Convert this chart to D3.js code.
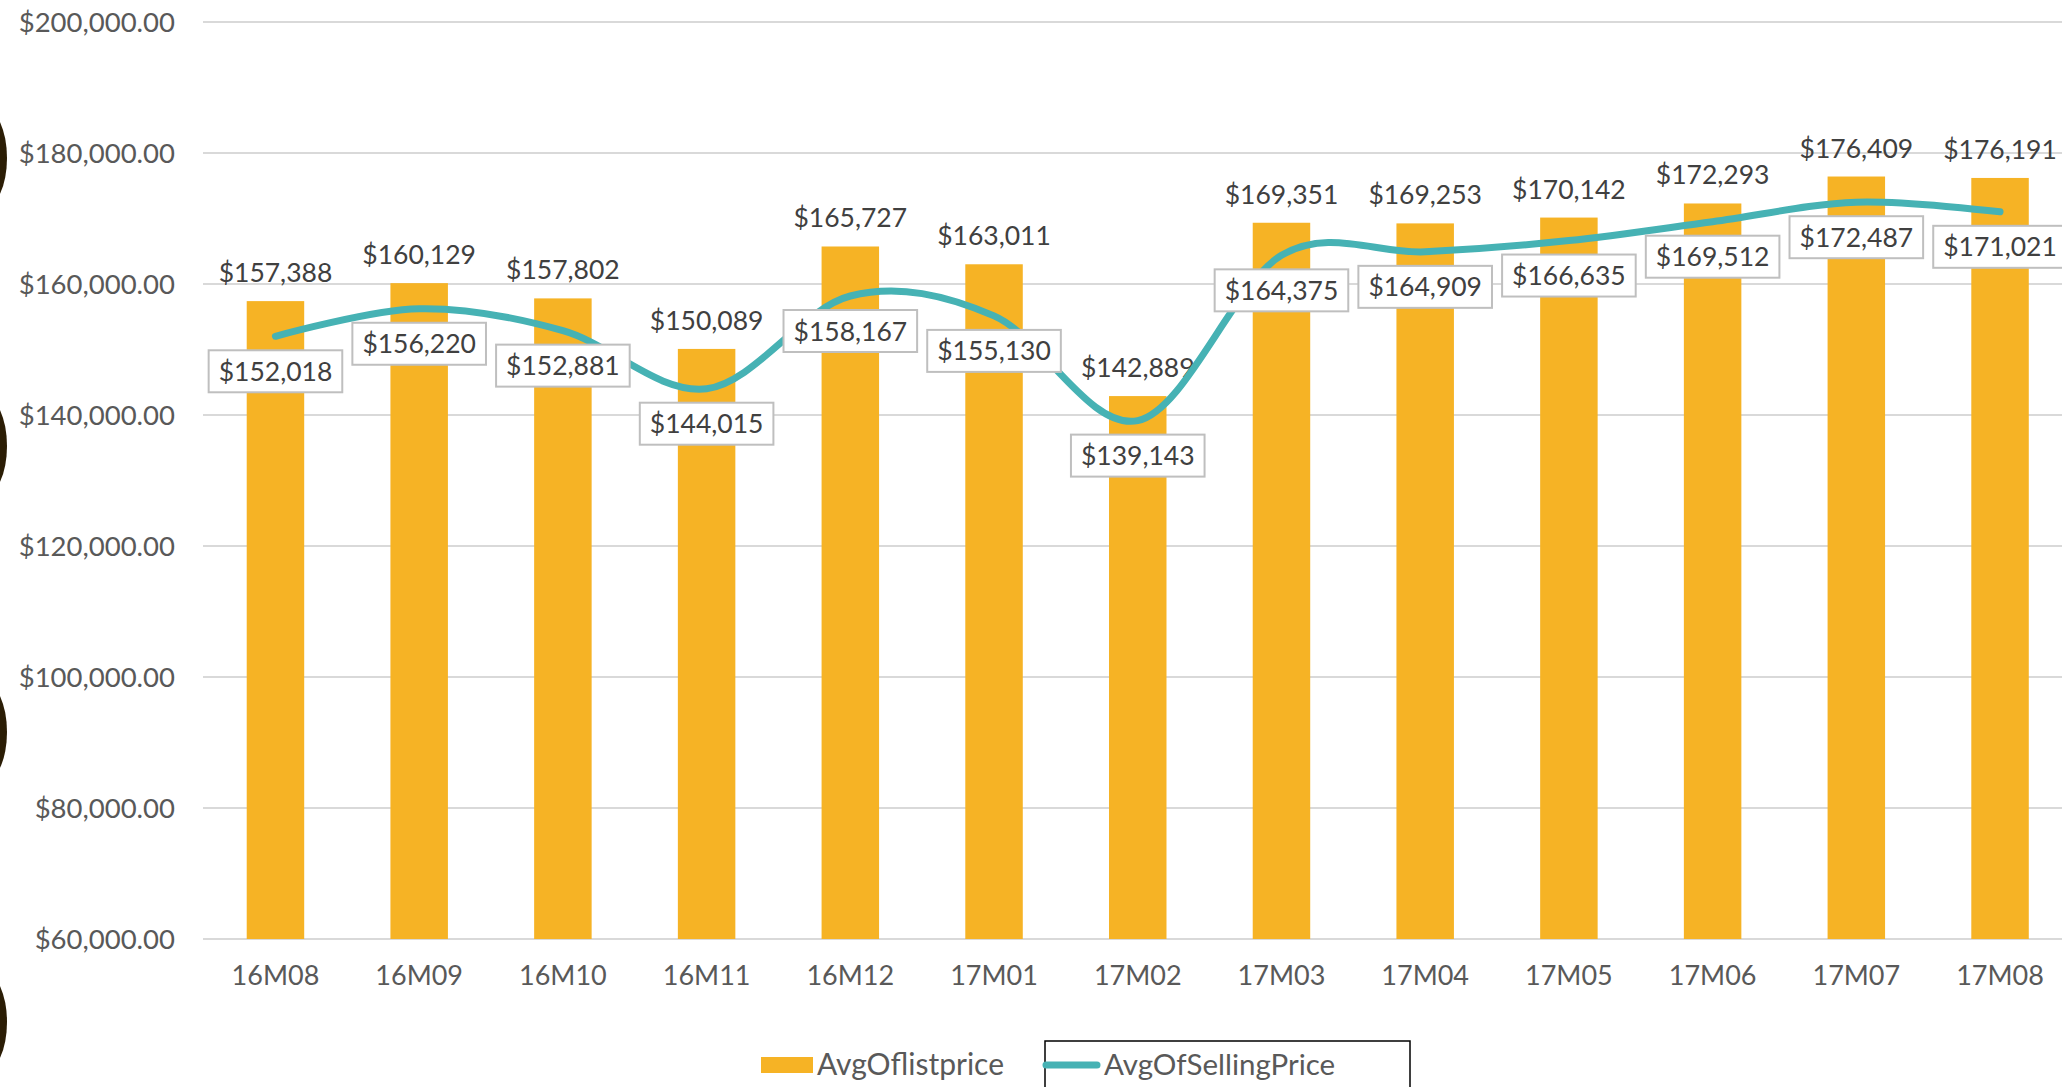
<!DOCTYPE html>
<meta charset="utf-8">
<title>AvgOflistprice vs AvgOfSellingPrice</title>
<head>
  <script src="https://d3js.org/d3.v7.min.js"></script>
  <style>
    body { margin: 0; background: #fff; }
    text { font-family: Lato, "Open Sans", sans-serif; }
  </style>
</head>
<body>
  <div id="chart"></div>
</body>
<script>
    // data
    var months = ["16M08", "16M09", "16M10", "16M11", "16M12", "17M01", "17M02",
                  "17M03", "17M04", "17M05", "17M06", "17M07", "17M08"];
    var listPrice = [157388, 160129, 157802, 150089, 165727, 163011, 142889,
                     169351, 169253, 170142, 172293, 176409, 176191];
    var sellingPrice = [152018, 156220, 152881, 144015, 158167, 155130, 139143,
                        164375, 164909, 166635, 169512, 172487, 171021];
    var yTicks = [60000, 80000, 100000, 120000, 140000, 160000, 180000, 200000];
    var seriesNames = ["AvgOflistprice", "AvgOfSellingPrice"];

    var W = 2062, H = 1087;
    var barColor = "#F6B325", lineColor = "#46B2B4";

    var svg = d3.select("#chart")
      .append("svg")
        .attr("width", W)
        .attr("height", H);

    var x = d3.scaleBand()
        .domain(months)
        .range([203.6, 2071.9])
        .paddingInner(0.6)
        .paddingOuter(0.3);

    var y = d3.scaleLinear()
        .domain([60000, 200000])
        .range([939, 22]);

    var money2 = function(v) { return "$" + d3.format(",.2f")(v); };
    var money0 = function(v) { return "$" + d3.format(",")(v); };

    // decorative dark shapes on the left edge
    svg.selectAll("ellipse.deco")
      .data([158, 446, 732, 1022])
      .enter()
      .append("ellipse")
        .attr("class", "deco")
        .attr("cx", -16)
        .attr("cy", function(d) { return d; })
        .attr("rx", 23)
        .attr("ry", 50)
        .style("fill", "#2B1D05");

    // gridlines
    svg.append("g")
      .selectAll("line")
      .data(yTicks)
      .enter()
      .append("line")
        .attr("x1", 203)
        .attr("x2", W)
        .attr("y1", function(d) { return y(d); })
        .attr("y2", function(d) { return y(d); })
        .style("stroke", "#D9D9D9")
        .style("stroke-width", 2);

    // y axis labels
    var yAxis = svg.append("g")
        .attr("transform", "translate(175,0)")
        .call(d3.axisLeft(y).tickValues(yTicks).tickFormat(money2).tickSize(0).tickPadding(0));
    yAxis.select(".domain").remove();
    yAxis.selectAll("text")
        .attr("dy", "0.36em")
        .style("font-size", "27.5px")
        .style("fill", "#595959");

    // x axis labels
    var xAxis = svg.append("g")
        .attr("transform", "translate(0,939)")
        .call(d3.axisBottom(x).tickSize(0).tickPadding(0));
    xAxis.select(".domain").remove();
    xAxis.selectAll("text")
        .attr("y", 46)
        .attr("dy", 0)
        .style("font-size", "27px")
        .style("fill", "#595959");

    // bars
    svg.selectAll("rect.bar")
      .data(listPrice)
      .enter()
      .append("rect")
        .attr("class", "bar")
        .attr("x", function(d, i) { return x(months[i]); })
        .attr("y", function(d) { return y(d); })
        .attr("width", x.bandwidth())
        .attr("height", function(d) { return y(60000) - y(d); })
        .style("fill", barColor);

    // bar labels
    svg.selectAll("text.barlabel")
      .data(listPrice)
      .enter()
      .append("text")
        .attr("class", "barlabel")
        .attr("x", function(d, i) { return x(months[i]) + x.bandwidth() / 2; })
        .attr("y", function(d) { return y(d) - 19; })
        .attr("text-anchor", "middle")
        .style("font-size", "26.5px")
        .style("fill", "#404040")
        .text(money0);

    // smoothed line
    var line = d3.line()
        .x(function(d, i) { return x(months[i]) + x.bandwidth() / 2; })
        .y(function(d) { return y(d); })
        .curve(d3.curveCardinal);

    svg.append("path")
        .datum(sellingPrice)
        .attr("d", line)
        .style("fill", "none")
        .style("stroke", lineColor)
        .style("stroke-width", 7)
        .style("stroke-linecap", "round");

    // line labels in boxes
    var lbl = svg.selectAll("g.linelabel")
      .data(sellingPrice)
      .enter()
      .append("g")
        .attr("class", "linelabel")
        .attr("transform", function(d, i) {
          return "translate(" + (x(months[i]) + x.bandwidth() / 2) + "," + (y(d) + 35) + ")";
        });
    lbl.append("rect")
        .attr("x", -63)
        .attr("y", -21)
        .attr("width", 126)
        .attr("height", 42)
        .style("fill", "#fff")
        .style("stroke", "#BFBFBF")
        .style("stroke-width", 2);
    lbl.append("text")
        .attr("text-anchor", "middle")
        .attr("dy", "0.36em")
        .style("font-size", "26.5px")
        .style("fill", "#404040")
        .text(money0);
    lbl.each(function() {
      var g = d3.select(this);
      var w = g.select("text").node().getComputedTextLength() + 20;
      g.select("rect").attr("x", -w / 2).attr("width", w);
    });

    // legend
    var legend = svg.append("g");
    legend.append("rect")
        .attr("x", 761).attr("y", 1057)
        .attr("width", 52).attr("height", 16)
        .style("fill", barColor);
    legend.append("text")
        .attr("x", 817).attr("y", 1075)
        .style("font-size", "30px")
        .style("fill", "#595959")
        .text(seriesNames[0]);
    legend.append("rect")
        .attr("x", 1045).attr("y", 1041)
        .attr("width", 365).attr("height", 60)
        .style("fill", "none")
        .style("stroke", "#000")
        .style("stroke-width", 1.5);
    legend.append("line")
        .attr("x1", 1046).attr("x2", 1097)
        .attr("y1", 1065).attr("y2", 1065)
        .style("stroke", lineColor)
        .style("stroke-width", 7)
        .style("stroke-linecap", "round");
    legend.append("text")
        .attr("x", 1104).attr("y", 1075)
        .style("font-size", "29.5px")
        .style("fill", "#595959")
        .text(seriesNames[1]);
</script>
